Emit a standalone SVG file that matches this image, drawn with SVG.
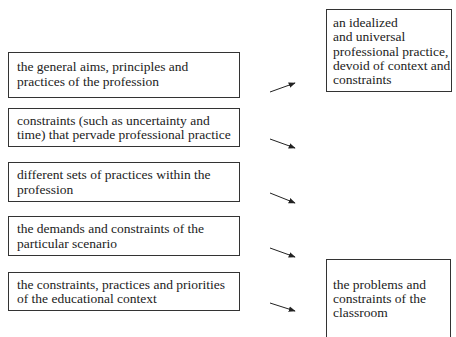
<svg xmlns="http://www.w3.org/2000/svg" width="456" height="337" viewBox="0 0 456 337">
<defs>
<style>
rect.b{fill:#fff;stroke:#333;stroke-width:1}
text{font-family:'Liberation Serif',serif;font-size:13.5px;fill:#222}
line.c{stroke:#222;stroke-width:1}
</style>
<marker id="ah" viewBox="0 0 10 10" refX="9" refY="5" markerWidth="7" markerHeight="7" orient="auto" markerUnits="userSpaceOnUse">
<path d="M0,1 L10,5 L0,9 Z" fill="#222"/>
</marker>
</defs>
<rect width="456" height="337" fill="#fff"/>
<g font-family="Liberation Serif, serif">
<g id="n1"><rect class="b" x="8.5" y="52.5" width="231" height="45"/>
<text x="17" y="71">the general aims, principles and</text><text x="17" y="86">practices of the profession</text></g>
<g id="n2"><rect class="b" x="8.5" y="108.5" width="231" height="38"/>
<text x="17" y="125">constraints (such as uncertainty and</text><text x="17" y="139">time) that pervade professional practice</text></g>
<g id="n3"><rect class="b" x="8.5" y="162.5" width="231" height="39"/>
<text x="17" y="179">different sets of practices within the</text><text x="17" y="194">profession</text></g>
<g id="n4"><rect class="b" x="8.5" y="216.5" width="231" height="39"/>
<text x="17" y="233">the demands and constraints of the</text><text x="17" y="248">particular scenario</text></g>
<g id="n5"><rect class="b" x="8.5" y="272.5" width="231" height="38"/>
<text x="17" y="289">the constraints, practices and priorities</text><text x="17" y="303">of the educational context</text></g>
<g id="r1"><rect class="b" x="326.5" y="9.5" width="125" height="82"/>
<text x="333" y="27">an idealized</text><text x="333" y="41">and universal</text><text x="333" y="56">professional practice,</text><text x="333" y="70">devoid of context and</text><text x="333" y="84">constraints</text></g>
<g id="r2"><rect class="b" x="326.5" y="259.5" width="124" height="90"/>
<text x="333" y="289">the problems and</text><text x="333" y="303">constraints of the</text><text x="333" y="317">classroom</text></g>
</g>
<g id="connectors">
<line class="c" x1="270" y1="92" x2="295" y2="83" marker-end="url(#ah)"/>
<line class="c" x1="270" y1="139" x2="295" y2="148" marker-end="url(#ah)"/>
<line class="c" x1="270" y1="193" x2="295" y2="203" marker-end="url(#ah)"/>
<line class="c" x1="270" y1="248" x2="295" y2="257" marker-end="url(#ah)"/>
<line class="c" x1="270" y1="303" x2="295" y2="311" marker-end="url(#ah)"/>
</g>
</svg>
